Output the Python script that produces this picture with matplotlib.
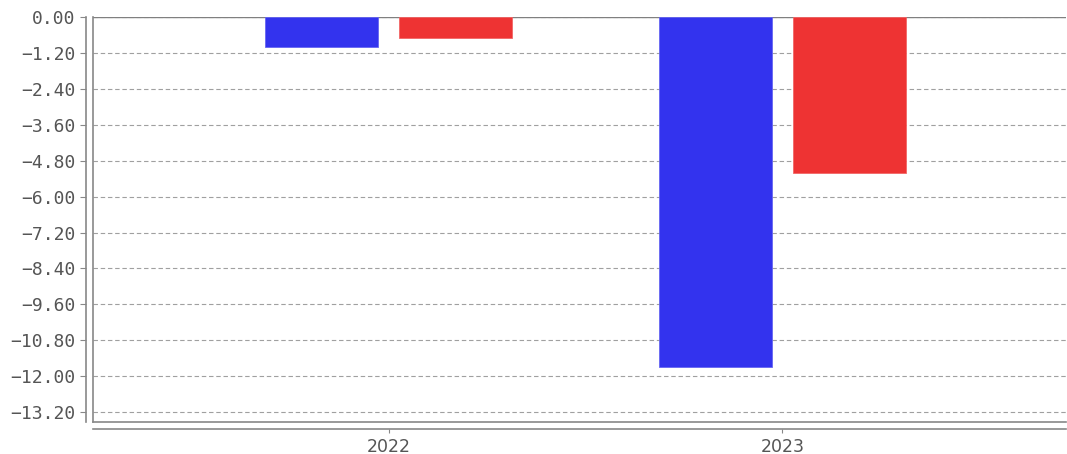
import numpy as np
import matplotlib.pyplot as plt

# data ------------------------------------------------------
years = ['2022', '2023']
blue_vals = [-1.00, -11.70]
red_vals = [-0.70, -5.21]
yticks = [0.0, -1.2, -2.4, -3.6, -4.8, -6.0, -7.2, -8.4, -9.6, -10.8, -12.0, -13.2]

# plot ------------------------------------------------------
fig = plt.figure(figsize=(10.67, 4.54), dpi=100)
ax = fig.add_axes([0.0872, 0.0705, 0.912, 0.892])

x = np.arange(len(years))
w = 0.287
ax.bar(x - 0.169, blue_vals, w, color='#3333ee', edgecolor='#6666f2', lw=0.6, zorder=3)
ax.bar(x + 0.169, red_vals, w, color='#ee3333', edgecolor='#f26666', lw=0.6, zorder=3)

ax.set_ylim(-13.53, 0)
ax.set_xlim(-0.75, 1.72)
ax.set_yticks(yticks)
ax.set_yticklabels(['%.2f' % v if v == 0 else '\u2212%.2f' % -v for v in yticks])
ax.set_xticks(x)
ax.set_xticklabels(years)

ax.grid(axis='y', ls=(0, (4, 2.5)), color='#a0a0a0', lw=0.8, zorder=0)
ax.axhline(0, color='#808080', lw=1.0, zorder=2)

for s in ['top', 'right']:
    ax.spines[s].set_visible(False)
for s in ['left', 'bottom']:
    ax.spines[s].set_position(('outward', 5))
    ax.spines[s].set_color('#888888')
    ax.spines[s].set_linewidth(1.2)

# inner frame lines
ax.plot([0, 0], [0, 1], transform=ax.transAxes, color='#888888', lw=1.2, clip_on=False)
ax.plot([0, 1], [0, 0], transform=ax.transAxes, color='#888888', lw=1.2, clip_on=False)

ax.tick_params(axis='y', length=4, color='#888888', labelcolor='#555555', labelsize=13)
ax.tick_params(axis='x', length=3, color='#888888', labelcolor='#555555', labelsize=12.5)
for t in ax.get_yticklabels():
    t.set_family('DejaVu Sans Mono')

fig.savefig('out.png', dpi=100)
